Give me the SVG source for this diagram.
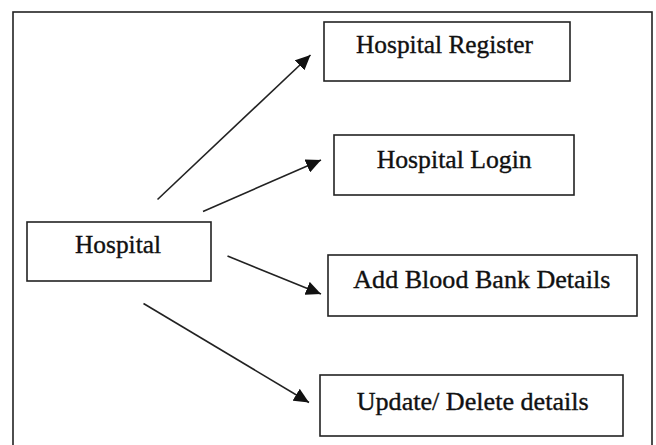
<svg xmlns="http://www.w3.org/2000/svg" width="656" height="445" viewBox="0 0 656 445">
<style>
.box{fill:#fff;stroke:#222;stroke-width:1.6}
.lbl{font-family:"Liberation Serif","Times New Roman",serif;font-size:25px;fill:#111;stroke:#111;stroke-width:0.35}
.con{stroke:#222;stroke-width:1.6;fill:none;marker-end:url(#ah)}
</style>
<defs>
<marker id="ah" markerUnits="userSpaceOnUse" markerWidth="16" markerHeight="14" refX="15" refY="7" orient="auto">
<path d="M0,0 L15,7 L0,14 z" fill="#111"/>
</marker>
</defs>
<rect x="13" y="12" width="639" height="450" fill="#fff" stroke="#222" stroke-width="1.6"/>
<g id="connectors">
<line class="con" x1="157.5" y1="199.5" x2="310.5" y2="55"/>
<line class="con" x1="203" y1="211.5" x2="321" y2="160"/>
<line class="con" x1="227.5" y1="256" x2="321" y2="294"/>
<line class="con" x1="143.5" y1="303.5" x2="309" y2="402.5"/>
</g>
<g id="hospital">
<rect class="box" x="27" y="222" width="184" height="59"/>
<text class="lbl" x="75" y="253.3" textLength="86" lengthAdjust="spacingAndGlyphs">Hospital</text>
</g>
<g id="hospital-register">
<rect class="box" x="324" y="22" width="246" height="59"/>
<text class="lbl" x="356" y="53.3" textLength="177" lengthAdjust="spacingAndGlyphs">Hospital Register</text>
</g>
<g id="hospital-login">
<rect class="box" x="334" y="135" width="240" height="60"/>
<text class="lbl" x="376.7" y="167.7" textLength="155" lengthAdjust="spacingAndGlyphs">Hospital Login</text>
</g>
<g id="add-blood-bank">
<rect class="box" x="328" y="255" width="309" height="61"/>
<text class="lbl" x="353.3" y="288.3" textLength="257" lengthAdjust="spacingAndGlyphs">Add Blood Bank Details</text>
</g>
<g id="update-delete">
<rect class="box" x="320" y="375" width="303" height="61"/>
<text class="lbl" x="356.7" y="410" textLength="232" lengthAdjust="spacingAndGlyphs">Update/ Delete details</text>
</g>
</svg>
